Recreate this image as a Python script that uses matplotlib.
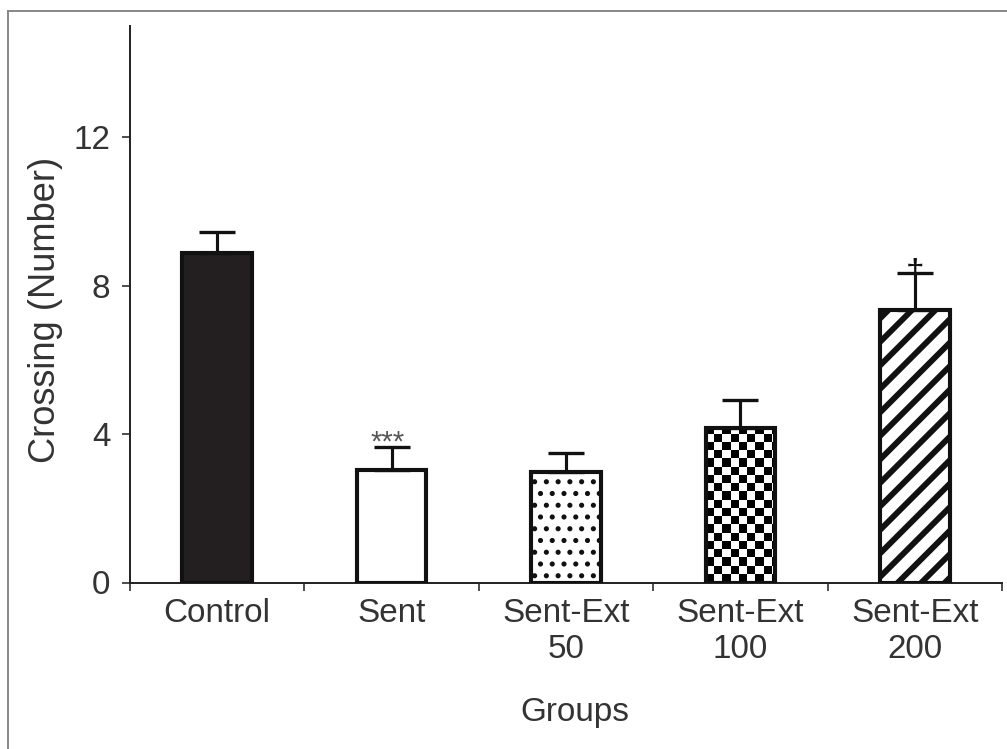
import numpy as np
import matplotlib
matplotlib.use("Agg")
import matplotlib.pyplot as plt
from matplotlib.lines import Line2D
from matplotlib.ticker import FixedLocator, NullFormatter, FixedFormatter

# ---- data ----
groups = ["Control", "Sent", "Sent-Ext\n50", "Sent-Ext\n100", "Sent-Ext\n200"]
means = [8.88, 3.02, 2.97, 4.16, 7.34]
sems = [0.56, 0.64, 0.51, 0.77, 1.01]
marks = ["", "***", "", "", "†"]
yticks = [0, 4, 8, 12]

DPI = 141
fig = plt.figure(figsize=(1007 / DPI, 749 / DPI), dpi=DPI)
plt.rcParams['font.family'] = ['Liberation Sans', 'DejaVu Sans']
ax = fig.add_axes([130 / 1007, 1 - 582.5 / 749, (1002 - 130) / 1007, (582.5 - 26) / 749])

x = np.arange(len(groups))
bw = 0.40
ink = "#111111"
txt = "#333333"
faces = ["#231f20", "white", "white", "white", "white"]
hatches = [None, None, "..", None, "//"]
hlw = [1.0, 1.0, 1.4, 1.0, 3.0]

bars = ax.bar(x, means, width=bw, color=faces, edgecolor=ink, linewidth=0, zorder=2)
for b, h, lw in zip(bars, hatches, hlw):
    if h:
        b.set_hatch(h)
        try:
            b.set_hatch_linewidth(lw)
        except Exception:
            pass

# checkerboard for the Sent-Ext 100 bar
ci = 3
b = bars[ci]
cw = bw / 8.5
ch = cw * 174.4 / 37.08
nx = int(np.ceil(bw / cw))
ny = int(np.ceil(means[ci] / ch))
board = (np.add.outer(np.arange(ny), np.arange(nx)) % 2).astype(float)
x0 = x[ci] - bw / 2
im = ax.imshow(board, cmap="gray", vmin=0, vmax=1, origin="lower", aspect="auto",
               interpolation="nearest", extent=[x0, x0 + nx * cw, 0, ny * ch], zorder=2.5)
im.set_clip_path(b)

# outlines on top
ax.bar(x, means, width=bw, fill=False, edgecolor=ink, linewidth=2.1, zorder=3)

# error bars (upper only)
ax.errorbar(x, means, yerr=[np.zeros(len(sems)), sems], fmt="none", ecolor=ink,
            elinewidth=1.6, capsize=9, capthick=1.7, zorder=2.8)

# significance marks
for xi, m, s, mk in zip(x, means, sems, marks):
    if mk == "***":
        ax.text(xi - 0.025, m + s - 0.10, mk, ha="center", va="baseline", fontsize=15,
                color="#555555", zorder=4)
    elif mk:
        ax.text(xi, m + s - 0.24, mk, ha="center", va="baseline", fontsize=17,
                color=ink, zorder=4)

ax.set_xlim(-0.5, len(groups) - 0.5)
ax.set_ylim(0, 15)

for s in ["top", "right"]:
    ax.spines[s].set_visible(False)
for s in ["left", "bottom"]:
    ax.spines[s].set_linewidth(1.0)
    ax.spines[s].set_color("#222222")

ax.set_yticks(yticks)
ax.set_yticklabels([str(t) for t in yticks])
ax.xaxis.set_major_locator(FixedLocator(np.arange(-0.5, len(groups), 1.0)))
ax.xaxis.set_major_formatter(NullFormatter())
ax.xaxis.set_minor_locator(FixedLocator(x))
ax.xaxis.set_minor_formatter(FixedFormatter(groups))
ax.tick_params(axis="x", which="major", direction="out", length=4, width=0.8, color="#222222")
ax.tick_params(axis="x", which="minor", length=0, pad=8, labelsize=17, labelcolor=txt)
ax.tick_params(axis="y", direction="out", length=4, width=0.8, color="#222222",
               labelsize=17, labelcolor=txt, pad=6)
for lab in ax.xaxis.get_minorticklabels():
    lab.set_linespacing(1.22)

ax.set_xlabel("Groups", fontsize=17, color=txt)
ax.xaxis.set_label_coords(0.51, -0.206)
ax.set_ylabel("Crossing (Number)", fontsize=18.5, color=txt)
ax.yaxis.set_label_coords(-0.077, 0.49)

# figure frame (left and top visible)
fig.add_artist(Line2D([7.5 / 1007, 7.5 / 1007], [0, 1 - 10.7 / 749], transform=fig.transFigure,
                      color="#888888", linewidth=1.0))
fig.add_artist(Line2D([7.5 / 1007, 1], [1 - 10.7 / 749, 1 - 10.7 / 749], transform=fig.transFigure,
                      color="#888888", linewidth=1.0))

fig.savefig("out.png", dpi=DPI)
